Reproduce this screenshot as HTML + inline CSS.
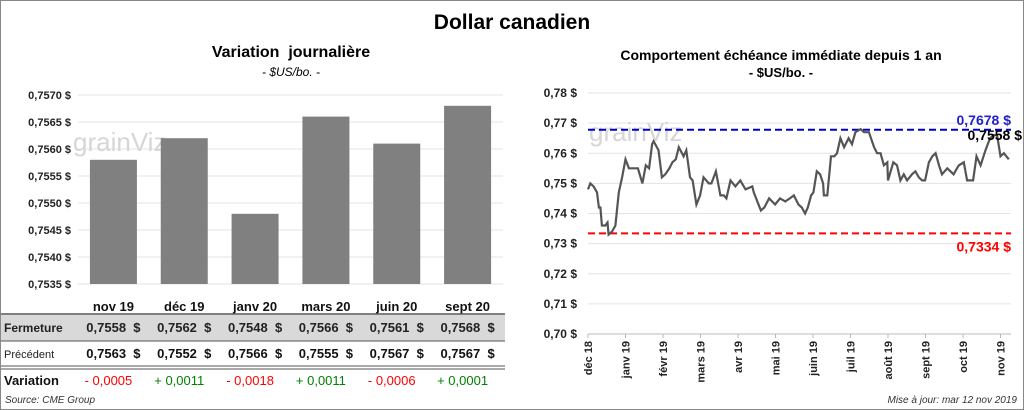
<!DOCTYPE html>
<html><head><meta charset="utf-8">
<style>
body{margin:0;background:#fff;font-family:"Liberation Sans",sans-serif;}
#wrap{position:relative;width:1022px;height:408px;border:1px solid #888;overflow:hidden;}
.t{position:absolute;white-space:nowrap;}
svg text{white-space:pre;}
</style></head><body>
<div id="wrap">
<div class="t" style="left:0;width:1022px;text-align:center;top:10px;font-size:21px;font-weight:bold;">Dollar canadien</div>
<div class="t" style="left:60px;width:460px;text-align:center;top:43px;font-size:16px;font-weight:bold;">Variation&nbsp; journalière</div>
<div class="t" style="left:60px;width:460px;text-align:center;top:64px;font-size:12px;font-style:italic;">- $US/bo. -</div>
<div class="t" style="left:540px;width:480px;text-align:center;top:46px;font-size:14px;font-weight:bold;">Comportement échéance immédiate depuis 1 an</div>
<div class="t" style="left:540px;width:480px;text-align:center;top:64px;font-size:13px;font-weight:bold;">- $US/bo. -</div>
<svg id="svg" width="1022" height="408" style="position:absolute;left:0;top:0"></svg>
<div class="t" style="left:4px;top:394px;font-size:10px;font-style:italic;color:#333;">Source: CME Group</div>
<div class="t" style="right:6px;top:394px;font-size:10px;font-style:italic;color:#333;">Mise à jour: mar 12 nov 2019</div>
</div>
<script>
const months=["nov 19","déc 19","janv 20","mars 20","juin 20","sept 20"];
const closeVals=[0.7558,0.7562,0.7548,0.7566,0.7561,0.7568];
const prevVals=[0.7563,0.7552,0.7566,0.7555,0.7567,0.7567];
const variationVals=[-0.0005,0.0011,-0.0018,0.0011,-0.0006,0.0001];
const barTicks=[0.7535,0.7540,0.7545,0.7550,0.7555,0.7560,0.7565,0.7570];
const lineTicks=[0.70,0.71,0.72,0.73,0.74,0.75,0.76,0.77,0.78];
const xLabels=["déc 18","janv 19","févr 19","mars 19","avr 19","mai 19","juin 19","juil 19","août 19","sept 19","oct 19","nov 19"];
const lineMonths=[0,0.06,0.15,0.24,0.29,0.33,0.37,0.46,0.52,0.55,0.64,0.73,0.82,0.91,1.0,1.09,1.22,1.33,1.45,1.54,1.63,1.71,1.75,1.88,1.97,2.06,2.17,2.25,2.34,2.42,2.55,2.62,2.72,2.79,2.89,2.99,3.08,3.22,3.29,3.41,3.53,3.62,3.69,3.8,3.93,4.06,4.2,4.38,4.42,4.61,4.7,4.83,4.99,5.12,5.26,5.38,5.49,5.61,5.7,5.79,5.86,5.95,6.01,6.1,6.19,6.27,6.29,6.38,6.48,6.57,6.64,6.73,6.83,6.95,7.04,7.13,7.27,7.36,7.49,7.63,7.71,7.8,7.89,7.98,8.0,8.14,8.24,8.33,8.42,8.51,8.64,8.73,8.82,8.91,8.95,8.99,9.09,9.18,9.27,9.36,9.44,9.58,9.75,9.84,9.89,10.02,10.11,10.18,10.27,10.36,10.47,10.6,10.69,10.73,10.8,10.91,11.0,11.09,11.22];
const lineVals=[0.748,0.750,0.749,0.747,0.742,0.742,0.736,0.736,0.737,0.733,0.734,0.736,0.747,0.752,0.758,0.755,0.755,0.755,0.750,0.756,0.755,0.763,0.764,0.761,0.752,0.753,0.755,0.757,0.758,0.762,0.759,0.761,0.752,0.751,0.743,0.746,0.752,0.750,0.750,0.754,0.746,0.746,0.745,0.751,0.749,0.751,0.748,0.749,0.747,0.741,0.742,0.745,0.743,0.745,0.744,0.745,0.746,0.743,0.742,0.740,0.742,0.746,0.747,0.754,0.753,0.750,0.746,0.746,0.759,0.759,0.760,0.765,0.762,0.765,0.763,0.767,0.768,0.767,0.767,0.762,0.760,0.760,0.756,0.757,0.751,0.757,0.756,0.751,0.753,0.751,0.753,0.754,0.752,0.751,0.751,0.751,0.757,0.759,0.760,0.756,0.753,0.755,0.753,0.755,0.756,0.757,0.751,0.751,0.751,0.759,0.756,0.761,0.764,0.765,0.766,0.766,0.759,0.760,0.758,0.756,0.7558];
const maxVal=0.7678, minVal=0.7334, lastVal=0.7558;

const svg=document.getElementById('svg');const NS="http://www.w3.org/2000/svg";
function mk(tag,attrs,txt){const e=document.createElementNS(NS,tag);for(const k in attrs)e.setAttribute(k,attrs[k]);if(txt!==undefined)e.textContent=txt;svg.appendChild(e);return e;}
const fmt=(v,d)=>(Math.round(v*Math.pow(10,d))/Math.pow(10,d)).toFixed(d).replace('.',',');

const bx0=77,bx1=502,by0=283,by1=94;
const bY=v=>by0-(v-0.7535)/(0.7570-0.7535)*(by0-by1);
const band=(bx1-bx0)/months.length;
const tb=mk('rect',{x:0,y:314,width:504,height:26,fill:'#d9d9d9'});


barTicks.forEach(t=>{
 let g=mk('line',{x1:bx0,x2:bx1,y1:bY(t),y2:bY(t),stroke:'#e3e3e3','stroke-width':1});
 
 
 let l=mk('text',{x:70,y:bY(t)+4,'text-anchor':'end','font-size':11,'font-weight':'bold',fill:'#222'},fmt(t,4)+' $');
 
 
});
let wm1=mk('text',{x:72,y:150,'font-size':26,fill:'#d6d6d6'},'grainViz');


months.forEach((m,i)=>{
 const cx=bx0+band*(i+0.5),w=47;
 let r=mk('rect',{x:cx-w/2,y:bY(closeVals[i]),width:w,height:by0-bY(closeVals[i]),fill:'#808080'});
 
 
 let l=mk('text',{x:cx,y:310,'text-anchor':'middle','font-size':13,'font-weight':'bold',fill:'#111'},m);
 
 
 let c=mk('text',{x:cx,y:331,'text-anchor':'middle','font-size':13,'font-weight':'bold',fill:'#222'},fmt(closeVals[i],4)+'  $');
 
 
 let p=mk('text',{x:cx,y:357,'text-anchor':'middle','font-size':13,'font-weight':'bold',fill:'#111'},fmt(prevVals[i],4)+'  $');
 
 
 const d=variationVals[i];
 let v=mk('text',{x:cx-5,y:384,'text-anchor':'middle','font-size':13,fill:d<0?'#ff0000':'#008000'},(d<0?'- ':'+ ')+fmt(Math.abs(d),4));
 
 
});
[[313,'#555',1.5],[340,'#555',1],[365,'#555',1],[368,'#555',1]].forEach(a=>{
 let l=mk('line',{x1:0,x2:504,y1:a[0],y2:a[0],stroke:a[1],'stroke-width':a[2]});
 
 
});
let f=mk('text',{x:3,y:331,'font-size':12,'font-weight':'bold',fill:'#222'},'Fermeture');

let pr=mk('text',{x:3,y:357,'font-size':11,fill:'#222'},'Précédent');

let va=mk('text',{x:3,y:384,'font-size':13,'font-weight':'bold',fill:'#111'},'Variation');


const lx0=587,lxPerMonth=37.5,ly0=333,ly1=92;
const lY=v=>ly0-(v-0.70)/(0.08)*(ly0-ly1);
const lX=m=>lx0+m*lxPerMonth;
lineTicks.forEach(t=>{
 let g=mk('line',{x1:lx0,x2:1010,y1:lY(t),y2:lY(t),stroke:'#e3e3e3'});
 
 
 let l=mk('text',{x:576,y:lY(t)+4,'text-anchor':'end','font-size':12,'font-weight':'bold',fill:'#222'},fmt(t,2)+' $');
 
 
});
let ax=mk('line',{x1:lx0,x2:1010,y1:ly0,y2:ly0,stroke:'#bbb'});

xLabels.forEach((s,i)=>{
 const x=lX(i);
 let tk=mk('line',{x1:x,x2:x,y1:ly0,y2:ly0+4,stroke:'#bbb'});
 
 let l=mk('text',{x:0,y:0,'text-anchor':'end','font-size':11,'font-weight':'bold',fill:'#222',transform:`translate(${x+4},${ly0+7}) rotate(-90)`},s);
 
 
});
let wm2=mk('text',{x:588,y:140,'font-size':26,fill:'#d6d6d6'},'grainViz');

let hi=mk('line',{x1:lx0,x2:1010,y1:lY(maxVal),y2:lY(maxVal),stroke:'#0000cc','stroke-width':2,'stroke-dasharray':'7,4'});

let lo=mk('line',{x1:lx0,x2:1010,y1:lY(minVal),y2:lY(minVal),stroke:'#ff0000','stroke-width':2,'stroke-dasharray':'7,4'});

let pts=lineMonths.map((m,i)=>lX(m).toFixed(1)+','+lY(lineVals[i]).toFixed(1)).join(' ');
let pl=mk('polyline',{points:pts,fill:'none',stroke:'#555','stroke-width':2.2});

let hl=mk('text',{x:1010,y:lY(maxVal)-5,'text-anchor':'end','font-size':14,'font-weight':'bold',fill:'#2222cc'},fmt(maxVal,4)+' $');

let ll=mk('text',{x:1010,y:lY(minVal)+18,'text-anchor':'end','font-size':14,'font-weight':'bold',fill:'#ff0000'},fmt(minVal,4)+' $');

let la=mk('text',{x:1021,y:lY(lastVal)-26,'text-anchor':'end','font-size':14,'font-weight':'bold',fill:'#000'},fmt(lastVal,4)+' $');

</script>
</body></html>
